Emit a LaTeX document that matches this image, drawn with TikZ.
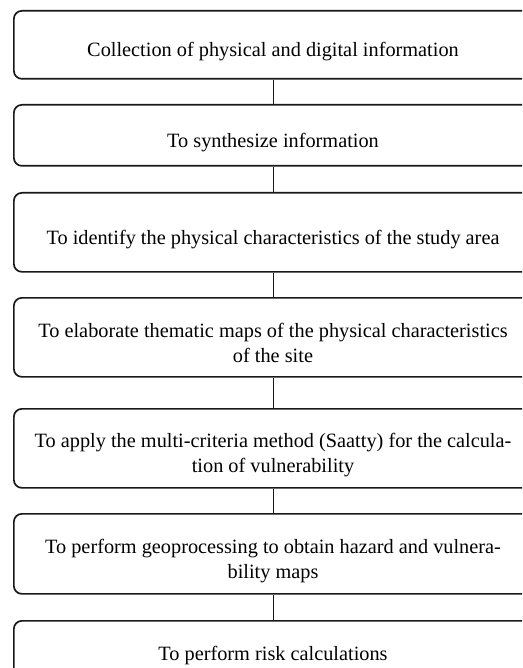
\documentclass[tikz,border=0pt]{standalone}
\usepackage{fontspec}
\setmainfont{Liberation Serif}
\begin{document}
\begin{tikzpicture}[x=1pt,y=-1pt,
  stepbox/.style={draw=black!90, line width=1.7pt, rounded corners=8pt,
    minimum width=520pt, inner sep=0pt, anchor=north west},
  steptext/.style={font=\fontsize{20.3}{25.5}\selectfont, align=center, anchor=base, inner sep=0pt},
  link/.style={draw=black!90, line width=1.1pt}]
\useasboundingbox (0,0) rectangle (522,668);
\clip (0,0) rectangle (522,668);
\node[stepbox, minimum height=68pt] (b1) at (13,10) {};
\node[stepbox, minimum height=61pt] (b2) at (13,104) {};
\node[stepbox, minimum height=79pt] (b3) at (13,192) {};
\node[stepbox, minimum height=79pt] (b4) at (13,297) {};
\node[stepbox, minimum height=79pt] (b5) at (13,408) {};
\node[stepbox, minimum height=80pt] (b6) at (13,513) {};
\node[stepbox, minimum height=80pt] (b7) at (13,620) {};
\node[steptext] (t1) at (273,57) {Collection of physical and digital information};
\node[steptext] (t2) at (273,147.5) {To synthesize information};
\node[steptext] (t3) at (273,244.5) {To identify the physical characteristics of the study area};
\node[steptext] (t4) at (273,362.5) {To elaborate thematic maps of the physical characteristics\\of the site};
\node[steptext] (t5) at (273,472.5) {To apply the multi-criteria method (Saatty) for the calcula-\\tion of vulnerability};
\node[steptext] (t6) at (273,578.5) {To perform geoprocessing to obtain hazard and vulnera-\\bility maps};
\node[steptext] (t7) at (273,660) {To perform risk calculations};
\foreach \a/\b in {b1/b2,b2/b3,b3/b4,b4/b5,b5/b6,b6/b7}
  \draw[link] (\a.south) -- (\b.north);
\end{tikzpicture}
\end{document}
